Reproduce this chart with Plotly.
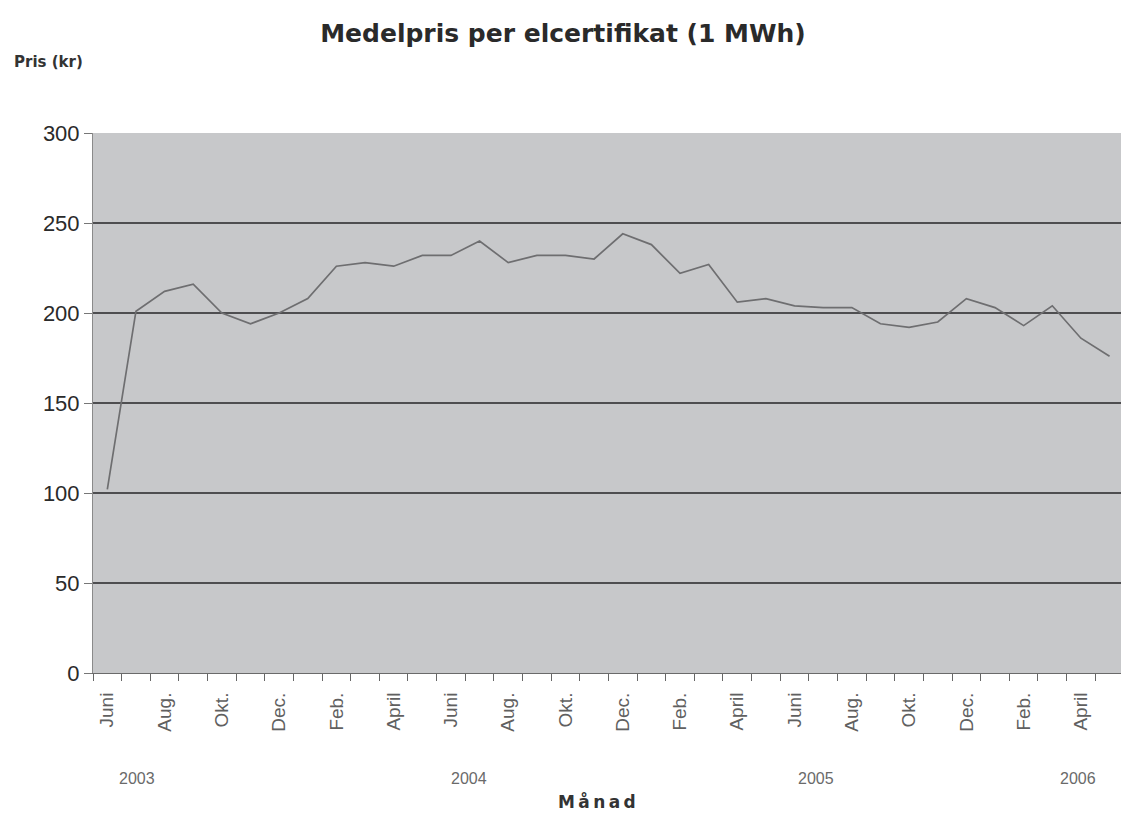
import plotly.graph_objects as go

months = [
    "Jun 2003", "Jul 2003", "Aug 2003", "Sep 2003", "Okt 2003", "Nov 2003", "Dec 2003",
    "Jan 2004", "Feb 2004", "Mar 2004", "Apr 2004", "Maj 2004", "Jun 2004", "Jul 2004",
    "Aug 2004", "Sep 2004", "Okt 2004", "Nov 2004", "Dec 2004",
    "Jan 2005", "Feb 2005", "Mar 2005", "Apr 2005", "Maj 2005", "Jun 2005", "Jul 2005",
    "Aug 2005", "Sep 2005", "Okt 2005", "Nov 2005", "Dec 2005",
    "Jan 2006", "Feb 2006", "Mar 2006", "Apr 2006", "Maj 2006",
]
prices = [
    102, 201, 212, 216, 200, 194, 200,
    208, 226, 228, 226, 232, 232, 240,
    228, 232, 232, 230, 244,
    238, 222, 227, 206, 208, 204, 203,
    203, 194, 192, 195, 208,
    203, 193, 204, 186, 176,
]
tick_labels = [
    "Juni", "", "Aug.", "", "Okt.", "", "Dec.",
    "", "Feb.", "", "April", "", "Juni", "",
    "Aug.", "", "Okt.", "", "Dec.",
    "", "Feb.", "", "April", "", "Juni", "",
    "Aug.", "", "Okt.", "", "Dec.",
    "", "Feb.", "", "April", "",
]
years = ["2003", "2004", "2005", "2006"]

# body margin is removed by post_script, so page px == figure px
W, H = 1121, 814
L, T = 93, 133
PLOT_H = 540
B = H - T - PLOT_H
PLOT_W = W - L


def px_x(page_x):
    return (page_x - L) / PLOT_W


def px_y(page_y):
    return (T + PLOT_H - page_y) / PLOT_H


year_x = [137, 469, 816, 1078]

fig = go.Figure()
fig.add_trace(go.Scatter(
    x=months, y=prices, mode="lines",
    line=dict(color="#6e6e70", width=1.7),
    hoverinfo="x+y",
))

fig.update_layout(
    width=W, height=H,
    margin=dict(l=L, r=0, t=T, b=B),
    paper_bgcolor="white",
    plot_bgcolor="#c7c8ca",
    showlegend=False,
    font=dict(family="Liberation Sans, Arial, sans-serif"),
    title=dict(
        text="<b>Medelpris per elcertifikat (1 MWh)</b>",
        x=563 / W, xref="container", xanchor="center",
        y=1 - 33 / H, yref="container", yanchor="middle",
        font=dict(size=25, color="#2a2a2a", family="DejaVu Sans, sans-serif"),
    ),
    xaxis=dict(
        type="category",
        categoryorder="array", categoryarray=months,
        tickmode="array", tickvals=months, ticktext=tick_labels,
        tickangle=-90,
        tickson="boundaries",
        ticks="outside", ticklen=7, tickcolor="#666", tickwidth=1,
        ticklabelstandoff=11,
        tickfont=dict(size=19, color="#606060"),
        showgrid=False,
        showline=True, linecolor="#6a6a6a", linewidth=1,
        range=[-0.5, 35.4],
        zeroline=False,
    ),
    yaxis=dict(
        range=[0, 300],
        tickvals=[0, 50, 100, 150, 200, 250, 300],
        tickfont=dict(size=22, color="#2a2a2a"),
        ticks="outside", ticklen=8, tickcolor="#777", tickwidth=1,
        showgrid=True, gridcolor="#4e4e50", gridwidth=1.5,
        showline=True, linecolor="#8a8a8a", linewidth=1,
        zeroline=False,
    ),
)

for yr, xp in zip(years, year_x):
    fig.add_annotation(
        text=yr, x=px_x(xp), xref="paper", y=px_y(778), yref="paper",
        showarrow=False, font=dict(size=16, color="#6a6a6a"),
        xanchor="center", yanchor="middle",
    )

fig.add_annotation(
    text="<b>M\u2009å\u2009n\u2009a\u2009d</b>", x=px_x(597), xref="paper",
    y=px_y(801), yref="paper",
    showarrow=False, font=dict(size=17, color="#333", family="DejaVu Sans, sans-serif"),
    xanchor="center", yanchor="middle",
)
fig.add_annotation(
    text="<b>Pris (kr)</b>", x=px_x(12), xref="paper",
    y=px_y(62), yref="paper",
    showarrow=False, font=dict(size=15, color="#333", family="DejaVu Sans, sans-serif"),
    xanchor="left", yanchor="middle",
)

fig.write_html(
    "out.html",
    config={"displayModeBar": False},
    post_script="document.body.style.margin='0';document.body.style.overflow='hidden';",
)
